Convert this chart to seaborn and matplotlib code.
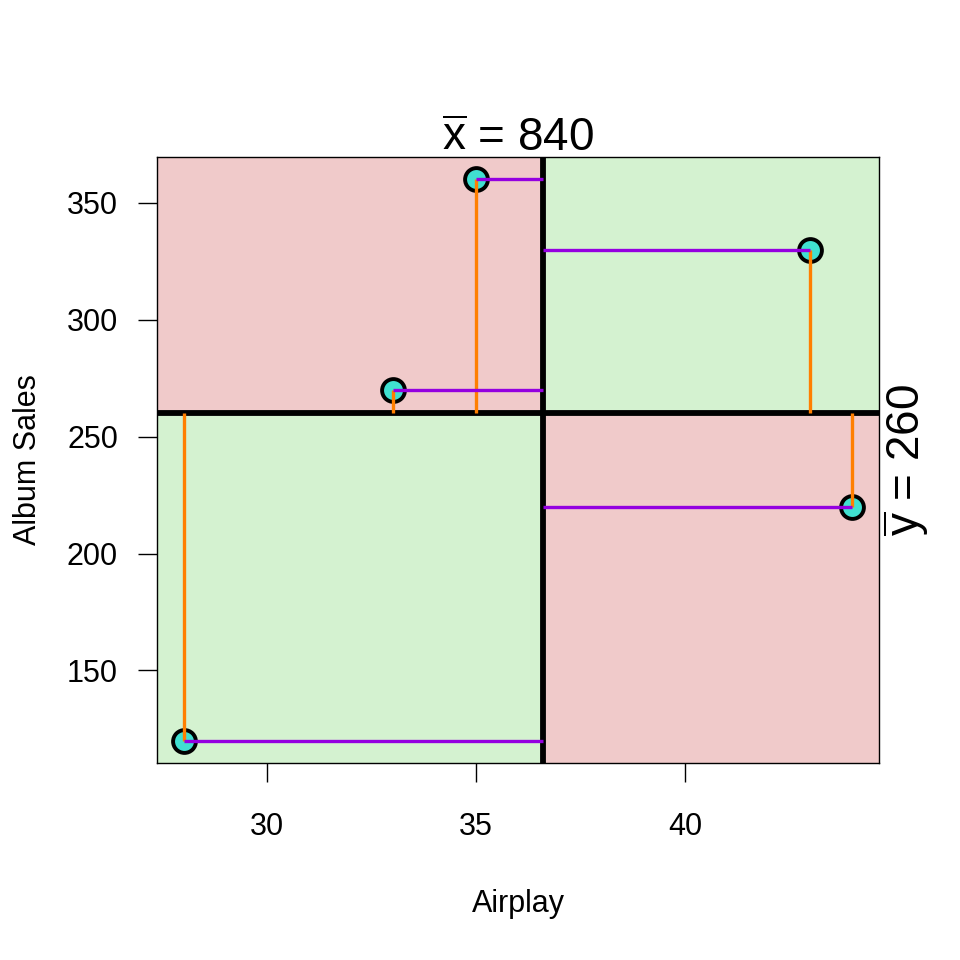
import matplotlib
matplotlib.use("Agg")
import matplotlib.pyplot as plt
import seaborn as sns
import pandas as pd
from matplotlib.patches import Rectangle

# data
airplay = [28, 33, 35, 43, 44]
sales = [120, 270, 360, 330, 220]
x_label_text = r"$\overline{\mathsf{x}}$ = 840"
y_label_text = r"$\overline{\mathsf{y}}$ = 260"

df = pd.DataFrame({"Airplay": airplay, "Album Sales": sales})
mx = df["Airplay"].mean()
my = df["Album Sales"].mean()

sns.set_style("white")
plt.rcParams["font.family"] = ["Liberation Sans", "DejaVu Sans"]
plt.rcParams["mathtext.fontset"] = "custom"
plt.rcParams["mathtext.sf"] = "Liberation Sans"
plt.rcParams["text.color"] = "black"
plt.rcParams["axes.labelcolor"] = "black"
plt.rcParams["xtick.color"] = "black"
plt.rcParams["ytick.color"] = "black"

fig = plt.figure(figsize=(9.6, 9.6), dpi=100)
ax = fig.add_axes([157 / 960, 1 - 763 / 960, (879 - 157) / 960, (763 - 157) / 960])

xr = max(airplay) - min(airplay)
yr = max(sales) - min(sales)
x0, x1 = min(airplay) - 0.04 * xr, max(airplay) + 0.04 * xr
y0, y1 = min(sales) - 0.04 * yr, max(sales) + 0.04 * yr
ax.set_xlim(x0, x1)
ax.set_ylim(y0, y1)

pink = "#F0CACA"
green = "#D4F2D0"
ax.add_patch(Rectangle((x0, my), mx - x0, y1 - my, color=pink, zorder=0))
ax.add_patch(Rectangle((mx, my), x1 - mx, y1 - my, color=green, zorder=0))
ax.add_patch(Rectangle((x0, y0), mx - x0, my - y0, color=green, zorder=0))
ax.add_patch(Rectangle((mx, y0), x1 - mx, my - y0, color=pink, zorder=0))

ax.axvline(mx, color="black", lw=4.2, zorder=1)
ax.axhline(my, color="black", lw=4.2, zorder=1)

sns.scatterplot(data=df, x="Airplay", y="Album Sales", ax=ax, s=270,
                color="#40E0D0", edgecolor="black", linewidth=2.8, zorder=3)

ax.vlines(df["Airplay"], df["Album Sales"], my, color="#FF7F00", lw=2.4, zorder=4)
ax.hlines(df["Album Sales"], df["Airplay"], mx, color="#9400E0", lw=2.4, zorder=5)

ax.set_xticks([30, 35, 40])
ax.set_yticks([150, 200, 250, 300, 350])
ax.tick_params(axis="both", direction="out", length=14, width=1, color="black",
               labelsize=22, bottom=True, left=True)
ax.tick_params(axis="x", pad=21)
ax.tick_params(axis="y", pad=14)
for s in ax.spines.values():
    s.set_color("black")
    s.set_linewidth(1)

ax.set_xlabel("Airplay", fontsize=22, labelpad=34)
ax.set_ylabel("Album Sales", fontsize=22, labelpad=17)
ax.set_title(x_label_text, fontsize=33, pad=4)
ax.text(1.038, 0.5, y_label_text, transform=ax.transAxes, rotation=90,
        fontsize=33, ha="center", va="center")

fig.savefig("out.png", dpi=100)
